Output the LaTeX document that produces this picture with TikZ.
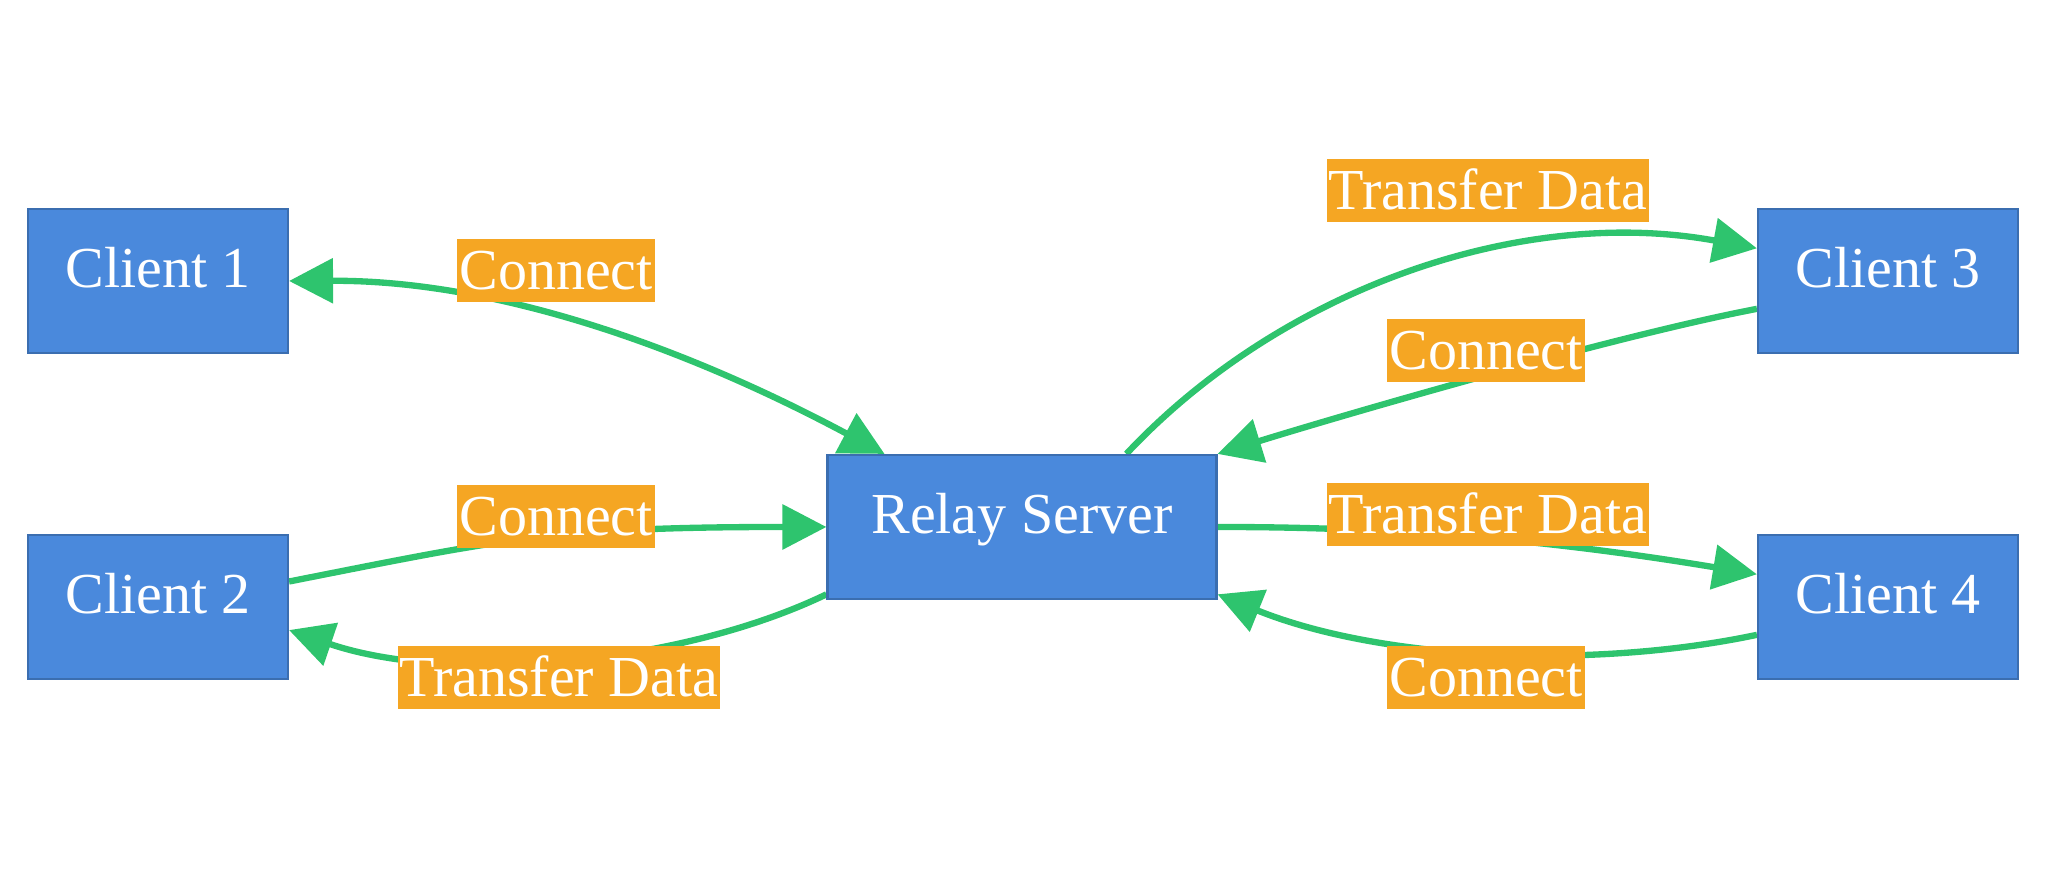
\documentclass[tikz,border=0pt]{standalone}
\usepackage{fontspec}
\setmainfont{Liberation Serif}
\usetikzlibrary{arrows.meta,backgrounds}
\definecolor{boxblue}{RGB}{74,137,220}
\definecolor{tagorange}{RGB}{245,166,35}
\definecolor{linkgreen}{RGB}{46,196,110}
\tikzset{
	box/.style={fill=boxblue, draw=boxblue!80!black, line width=0.6pt, text=white,
		minimum width=2.6cm, minimum height=1.44cm, inner sep=0pt,
		text height=0.45cm, text depth=0.31cm, font=\fontsize{16.5}{20}\selectfont},
	tag/.style={fill=tagorange, text=white, inner xsep=0.02cm, inner ysep=0pt,
		text height=0.50cm, text depth=0.13cm, font=\fontsize{16.5}{20}\selectfont},
	link/.style={draw=linkgreen, line width=1.8pt, >={Triangle[length=0.44cm, width=0.44cm]}}
}
\begin{document}
\begin{tikzpicture}
		\useasboundingbox (0,0) rectangle (20.48,8.9);
		% hosts
		\node[box] (c1) at (1.58, 6.09) {Client 1};
		\node[box] (c2) at (1.58, 2.83) {Client 2};
		\node[box, minimum width=3.89cm] (relay) at (10.22, 3.63) {Relay Server};
		\node[box] (c3) at (18.88, 6.09) {Client 3};
		\node[box] (c4) at (18.88, 2.83) {Client 4};
		% edge labels
		\node[tag] (t1) at (5.56, 6.19) {Connect};
		\node[tag] (t2) at (5.56, 3.73) {Connect};
		\node[tag] (t3) at (5.59, 2.12) {Transfer Data};
		\node[tag] (t4) at (14.88, 6.99) {Transfer Data};
		\node[tag] (t5) at (14.86, 5.39) {Connect};
		\node[tag] (t6) at (14.88, 3.75) {Transfer Data};
		\node[tag] (t7) at (14.86, 2.12) {Connect};
		\begin{pgfonlayer}{background}
		\draw[link, <->] (c1.east) .. controls (5.0, 6.1) and (6.9, 5.4) .. (relay.152);
		\draw[link, ->] (c2.11) .. controls (5.0, 3.5) and (5.5, 3.63) .. (relay.west);
		\draw[link, ->] (relay.199) .. controls (6.8, 2.25) and (4.5, 2.05) .. (c2.350);
		\draw[link, ->] (relay.35) .. controls (12.8, 6.0) and (15.2, 6.85) .. (c3.166);
		\draw[link, ->] (c3.192) .. controls (16.2, 5.55) and (13.6, 4.8) .. (relay.north east);
		\draw[link, ->] (relay.east) .. controls (14.0, 3.63) and (15.5, 3.5) .. (c4.166);
		\draw[link, ->] (c4.192) .. controls (15.9, 2.2) and (13.8, 2.3) .. (relay.341);
		\end{pgfonlayer}
	\end{tikzpicture}
\end{document}
